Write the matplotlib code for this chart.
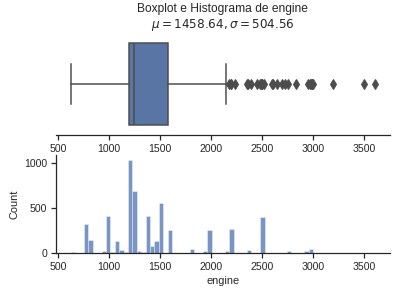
import matplotlib
matplotlib.use("Agg")
import matplotlib.pyplot as plt
import numpy as np

# summary stats of engine
mu = 1458.64
sigma = 504.56
eng_min, eng_max = 624, 3604
n_bins = 69

# boxplot stats
q1, med, q3 = 1197, 1248, 1582
whis_lo, whis_hi = 624, 2143
fliers = [2179, 2198, 2199, 2231, 2354, 2362, 2393, 2446, 2477, 2487, 2494,
          2499, 2523, 2596, 2609, 2650, 2694, 2720, 2755, 2835, 2953, 2967,
          2982, 2987, 2993, 2997, 3198, 3498, 3604]

# histogram: representative engine value per bin, and count
hist_engine = [624, 796, 814, 936, 998, 1047, 1086, 1120, 1172, 1197, 1248,
               1298, 1343, 1364, 1405, 1461, 1497, 1591, 1799, 1896, 1950,
               1995, 2143, 2179, 2354, 2494, 2596, 2755, 2953, 2982]
hist_count = [10, 319, 141, 22, 408, 10, 130, 33, 10, 1040, 686,
              20, 10, 408, 74, 130, 552, 252, 41, 5, 18,
              252, 18, 271, 30, 397, 5, 18, 18, 41]

font = ['Liberation Sans', 'DejaVu Sans']
plt.rcParams['font.family'] = font
plt.rcParams['mathtext.fontset'] = 'dejavusans'
dark = '#262626'
plt.rcParams.update({
    'axes.edgecolor': dark, 'axes.linewidth': 1.25,
    'xtick.color': dark, 'ytick.color': dark,
    'xtick.major.width': 1.25, 'ytick.major.width': 1.25,
    'xtick.major.size': 5, 'ytick.major.size': 5,
    'xtick.labelsize': 10.5, 'ytick.labelsize': 10.5,
    'text.color': dark, 'axes.labelcolor': dark,
})

W, H = 397, 294
fig = plt.figure(figsize=(W / 72, H / 72), dpi=72)
ax_box = fig.add_axes([55.5 / W, 1 - 135 / H, 334.5 / W, 102 / H])
ax_hist = fig.add_axes([55.5 / W, 1 - 253 / H, 334.5 / W, 98 / H])

pad = 0.05 * (eng_max - eng_min)
xlim = (eng_min - pad, eng_max + pad)

gray = '#4c4c4c'
stats = [dict(med=med, q1=q1, q3=q3, whislo=whis_lo, whishi=whis_hi, fliers=fliers)]
ax_box.bxp(stats, positions=[0], widths=0.8, vert=False, patch_artist=True,
           boxprops=dict(facecolor='#5975a4', edgecolor=gray, linewidth=1.5),
           whiskerprops=dict(color=gray, linewidth=1.5),
           capprops=dict(color=gray, linewidth=1.5),
           medianprops=dict(color=gray, linewidth=1.5),
           flierprops=dict(marker='d', markersize=6.5, markerfacecolor=gray,
                           markeredgecolor=gray, linestyle='none'))
ax_box.set_ylim(0.5, -0.5)
ax_box.set_xlim(*xlim)
ax_box.set_yticks([])
for s in ['top', 'right', 'left']:
    ax_box.spines[s].set_visible(False)
ax_box.set_xticks([500, 1000, 1500, 2000, 2500, 3000, 3500])
ax_box.set_title('Boxplot e Histograma de engine\n$\\mu=%.2f, \\sigma=%.2f$' % (mu, sigma),
                 fontsize=12, pad=3)

edges = np.linspace(eng_min, eng_max, n_bins + 1)
ax_hist.hist(hist_engine, bins=edges, weights=hist_count, color='#4c72b0',
             alpha=0.75, edgecolor='white', linewidth=0.5)
ax_hist.set_xlim(*xlim)
ax_hist.set_ylim(0, max(hist_count) * 1.05)
ax_hist.set_xticks([500, 1000, 1500, 2000, 2500, 3000, 3500])
ax_hist.set_yticks([0, 500, 1000])
ax_hist.set_xlabel('engine', fontsize=11, labelpad=4)
ax_hist.set_ylabel('Count', fontsize=11)
for s in ['top', 'right']:
    ax_hist.spines[s].set_visible(False)

fig.savefig('out.png', dpi=72)
